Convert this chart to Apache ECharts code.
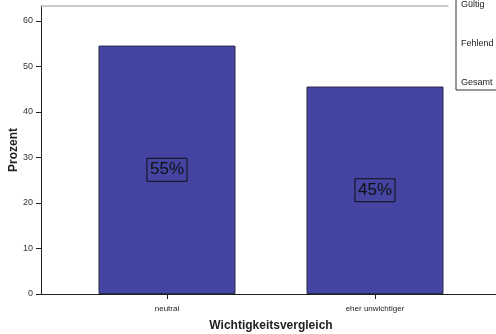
<!DOCTYPE html>
<html><head><meta charset="utf-8">
<script src="https://cdn.jsdelivr.net/npm/echarts@6/dist/echarts.min.js"></script>
<style>html,body{margin:0;padding:0;background:#fff}#c{width:496px;height:334px}</style>
</head><body><div id="c"></div>
<script>
const categories = ['neutral', 'eher unwichtiger'];
const percentValues = [54.6, 45.6];
const percentLabels = ['55%', '45%'];
const yTicks = [0, 10, 20, 30, 40, 50, 60];
const tableRows = ['Gültig', 'Fehlend', 'Gesamt'];

const FONT = '"Liberation Sans", Arial, sans-serif';
const chart = echarts.init(document.getElementById('c'), null, {renderer: 'canvas'});
const gridBase = {top: 6, bottom: 40, containLabel: false, outerBoundsMode: 'none'};
chart.setOption({
  animation: false,
  backgroundColor: '#fff',
  textStyle: {fontFamily: FONT},
  grid: [
    Object.assign({left: 63, right: 17}, gridBase),
    Object.assign({left: 41, right: 48}, gridBase),
    Object.assign({left: 41, right: 0}, gridBase)
  ],
  xAxis: [
    {
      type: 'category', gridIndex: 0, data: categories,
      axisLine: {show: false},
      axisTick: {show: true, alignWithLabel: true, length: 5, lineStyle: {color: '#222'}},
      axisLabel: {fontSize: 8, color: '#222', margin: 11, fontFamily: FONT},
      name: 'Wichtigkeitsvergleich', nameLocation: 'middle', nameGap: 26,
      nameTextStyle: {fontSize: 12, fontWeight: 'bold', color: '#222', fontFamily: FONT}
    },
    {
      type: 'category', gridIndex: 1, position: 'top', data: ['a'],
      axisLine: {show: true, onZero: false, lineStyle: {color: '#bbbbbb', width: 1.5}},
      axisTick: {show: false}, axisLabel: {show: false}
    },
    {
      type: 'category', gridIndex: 2, position: 'bottom', data: ['a'],
      axisLine: {show: true, onZero: false, lineStyle: {color: '#222', width: 1}},
      axisTick: {show: false}, axisLabel: {show: false}
    }
  ],
  yAxis: [
    {
      type: 'value', gridIndex: 0, min: 0, max: 63.3, interval: 10, offset: 22,
      axisLine: {show: true, lineStyle: {color: '#222'}},
      axisTick: {show: true, length: 5, lineStyle: {color: '#222'}},
      axisLabel: {fontSize: 9, color: '#333', margin: 8, showMaxLabel: false, fontFamily: FONT,
        formatter: v => yTicks.includes(v) ? String(v) : ''},
      splitLine: {show: false},
      name: 'Prozent', nameLocation: 'middle', nameGap: 21, nameRotate: 90, nameMoveOverlap: false,
      nameTextStyle: {fontSize: 12, fontWeight: 'bold', color: '#222', fontFamily: FONT}
    },
    {type: 'value', gridIndex: 1, show: false},
    {type: 'value', gridIndex: 2, show: false}
  ],
  series: [{
    type: 'bar', xAxisIndex: 0, yAxisIndex: 0,
    data: percentValues, barWidth: 137,
    itemStyle: {color: '#4444a2', borderColor: '#2a2a4a', borderWidth: 1},
    label: {
      show: true, position: 'inside',
      formatter: p => percentLabels[p.dataIndex],
      fontSize: 17, color: '#111', fontFamily: FONT,
      borderColor: '#111', borderWidth: 1, padding: [4, 3, 2, 3]
    }
  }],
  graphic: [
    {type: 'rect', shape: {x: 456, y: -2, width: 50, height: 92}, style: {fill: '#fff', stroke: '#333', lineWidth: 1}, z: 100},
    {type: 'text', x: 461, y: 5, style: {text: tableRows[0], fontSize: 9, fill: '#222', fontFamily: FONT, verticalAlign: 'middle'}, z: 101},
    {type: 'text', x: 461, y: 44, style: {text: tableRows[1], fontSize: 9, fill: '#222', fontFamily: FONT, verticalAlign: 'middle'}, z: 101},
    {type: 'text', x: 461, y: 83, style: {text: tableRows[2], fontSize: 9, fill: '#222', fontFamily: FONT, verticalAlign: 'middle'}, z: 101}
  ]
});
</script></body></html>
